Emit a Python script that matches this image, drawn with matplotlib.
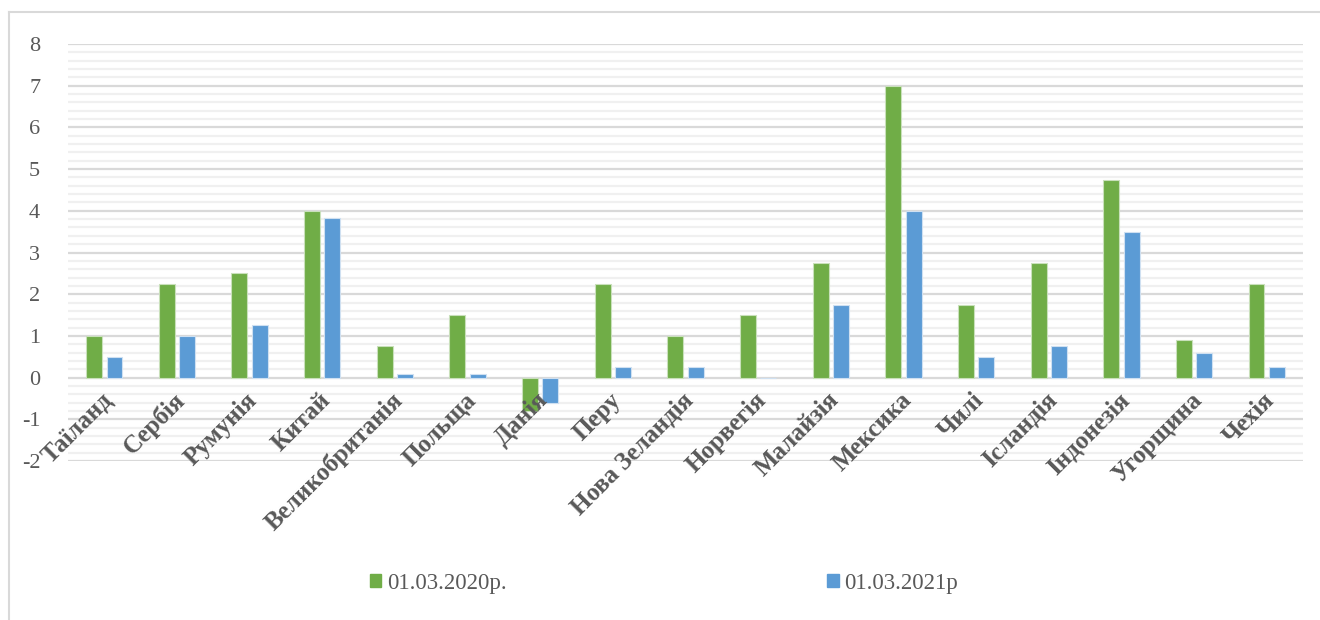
import matplotlib
matplotlib.use("Agg")
import matplotlib.pyplot as plt
import numpy as np
from matplotlib.lines import Line2D
from matplotlib.patches import Patch
from matplotlib.ticker import MultipleLocator

countries = ["Таїланд", "Сербія", "Румунія", "Китай", "Великобританія", "Польща",
             "Данія", "Перу", "Нова Зеландія", "Норвегія", "Малайзія", "Мексика",
             "Чилі", "Ісландія", "Індонезія", "Угорщина", "Чехія"]
v2020 = [1.0, 2.25, 2.5, 4.0, 0.75, 1.5, -0.8, 2.25, 1.0, 1.5, 2.75, 7.0,
         1.75, 2.75, 4.75, 0.9, 2.25]
v2021 = [0.5, 1.0, 1.25, 3.83, 0.08, 0.08, -0.6, 0.25, 0.25, 0.0, 1.75, 4.0,
         0.5, 0.75, 3.5, 0.6, 0.25]
series_names = ["01.03.2020р.", "01.03.2021р"]
yticks = list(range(-2, 9))

green = "#70AD47"
blue = "#5B9BD5"
txt = "#595959"
serif = ["Liberation Serif", "DejaVu Serif"]
plt.rcParams["axes.unicode_minus"] = False

fig = plt.figure(figsize=(13.2, 6.2), dpi=100)
ax = fig.add_axes([68/1320, 1-461/620, (1303-68)/1320, (461-44)/620])

x = np.arange(len(countries))
w = 0.22
ax.bar(x - 0.14, v2020, width=w, color=green, edgecolor="#c9e0bb", linewidth=0.8, zorder=3)
ax.bar(x + 0.14, v2021, width=w, color=blue, edgecolor="#cfe0f1", linewidth=0.8, zorder=3)

ax.set_xlim(-0.5, len(countries) - 0.5)
ax.set_ylim(-2, 8)
ax.yaxis.set_major_locator(MultipleLocator(1))
ax.yaxis.set_minor_locator(MultipleLocator(0.2))
ax.set_yticks(yticks)
ax.grid(axis="y", which="major", color="#d9d9d9", linewidth=1.6, zorder=0)
ax.grid(axis="y", which="minor", color="#f0f0f0", linewidth=1.6, zorder=0)
ax.set_axisbelow(True)
for s in ax.spines.values():
    s.set_visible(False)
ax.tick_params(axis="y", which="both", length=0, pad=20, labelsize=16, labelcolor=txt)
ax.tick_params(axis="x", which="both", length=0, labelbottom=False)
for lab in ax.get_yticklabels():
    lab.set_fontfamily(serif)

for i, c in enumerate(countries):
    ax.text(i + 0.06, -0.45, c, rotation=45, rotation_mode="anchor", ha="right", va="center",
            fontsize=18, fontweight="bold", color=txt, family=serif, zorder=4)

# chart border (left and top)
fig.add_artist(Line2D([9/1320, 9/1320], [0, 1-12/620], transform=fig.transFigure,
                      color="#d9d9d9", linewidth=1.5))
fig.add_artist(Line2D([9/1320, 1], [1-12/620, 1-12/620], transform=fig.transFigure,
                      color="#d9d9d9", linewidth=1.5))

handles = [Patch(facecolor=green, edgecolor=green), Patch(facecolor=blue, edgecolor=blue)]
leg = fig.legend(handles, series_names, loc="center", bbox_to_anchor=(664/1320, 1-583/620),
                 ncol=2, frameon=False, handlelength=0.5, handleheight=0.5, handletextpad=0.25,
                 columnspacing=14.0, prop={"family": serif, "size": 16.5})
for t in leg.get_texts():
    t.set_color(txt)

fig.savefig("out.png", dpi=100, facecolor="white")
